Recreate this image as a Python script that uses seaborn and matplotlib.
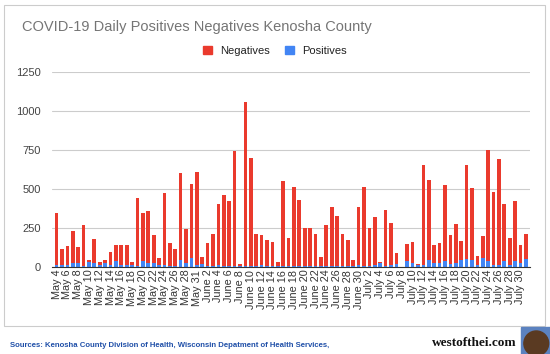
import pandas as pd
import matplotlib
matplotlib.use('Agg')
import matplotlib.pyplot as plt
import matplotlib.patches as mpatches
import seaborn as sns

# Daily test results, Kenosha County (one day missing at end of May)
dates = list(pd.date_range('2020-05-04', '2020-07-31'))
dates.remove(pd.Timestamp('2020-05-29'))
labels = [d.strftime('%B ') + str(d.day) for d in dates]

totals = [343, 118, 131, 233, 125, 269, 43, 177, 34, 47, 97, 142, 142, 142, 30,
          442, 343, 360, 207, 56, 472, 151, 118, 599, 241, 534, 610, 62, 151, 213,
          405, 461, 422, 743, 19, 1058, 700, 213, 203, 170, 160, 30, 550, 187,
          515, 431, 248, 248, 213, 62, 269, 381, 328, 213, 170, 47, 381, 511,
          252, 321, 30, 366, 282, 86, 0, 147, 157, 19, 651, 556, 140, 153, 528,
          207, 274, 164, 655, 504, 69, 196, 752, 483, 690, 405, 187, 420, 142, 213]
positives = [15, 15, 15, 25, 28, 5, 30, 28, 10, 28, 12, 40, 10, 12, 10,
             5, 35, 25, 28, 15, 12, 3, 5, 45, 28, 55, 12, 20, 5, 8,
             15, 5, 3, 3, 8, 5, 8, 5, 12, 5, 8, 5, 5, 5,
             5, 5, 5, 5, 5, 3, 5, 8, 5, 8, 8, 5, 10, 8,
             5, 10, 25, 5, 10, 20, 0, 38, 25, 10, 10, 45, 25, 25, 40,
             20, 25, 45, 50, 45, 10, 60, 40, 10, 10, 40, 10, 40, 25, 50]
negatives = [t - p for t, p in zip(totals, positives)]

df = pd.DataFrame({'Date': labels, 'Negatives': negatives, 'Positives': positives})
df['Total'] = df['Negatives'] + df['Positives']

sns.set_style('white')
plt.rcParams['font.family'] = ['Liberation Sans', 'DejaVu Sans']

red = '#EA3A2D'
blue = '#4285F4'

fig = plt.figure(figsize=(5.5, 3.54), dpi=100)
ax = fig.add_axes([0.095, 0.246, 0.869, 0.551])

# stacked: negatives on top of positives
sns.barplot(data=df, x='Date', y='Total', color=red, width=0.68, saturation=1,
            linewidth=0, edgecolor='none', ax=ax)
sns.barplot(data=df, x='Date', y='Positives', color=blue, width=0.68, saturation=1,
            linewidth=0, edgecolor='none', ax=ax)

ax.set_ylim(0, 1250)
ax.set_yticks(range(0, 1251, 250))
ax.set_xlim(-0.8, len(df) - 0.2)
ax.set_xlabel('')
ax.set_ylabel('')
ax.set_xticks(range(0, len(df), 2))
ax.set_xticklabels(labels[::2], rotation=90, fontsize=7.8, color='#333333')
ax.tick_params(axis='y', labelsize=8, colors='#444444', length=0, pad=8)
ax.tick_params(axis='x', length=0, pad=2)
ax.grid(axis='y', color='#cccccc', linewidth=0.8)
ax.set_axisbelow(True)
for s in ['top', 'right', 'left']:
    ax.spines[s].set_visible(False)
ax.spines['bottom'].set_color('#333333')
ax.spines['bottom'].set_linewidth(0.8)

fig.text(0.04, 0.924, 'COVID-19 Daily Positives Negatives Kenosha County',
         fontsize=10.5, color='#757575', va='center')

handles = [mpatches.Patch(color=red, label='Negatives'),
           mpatches.Patch(color=blue, label='Positives')]
fig.legend(handles=handles, loc='center', bbox_to_anchor=(0.5, 0.856), ncol=2,
           frameon=False, fontsize=8, handlelength=0.8, handleheight=0.8,
           columnspacing=1.4, handletextpad=0.7, labelcolor='#222222')

# chart border
fig.patches.append(mpatches.Rectangle((0.007, 0.079), 0.984, 0.907, transform=fig.transFigure,
                                      fill=False, edgecolor='#cccccc', linewidth=0.8))

fig.text(0.018, 0.025, 'Sources: Kenosha County Division of Health, Wisconsin Depatment of Health Services,',
         fontsize=5.6, fontweight='bold', color='#1f4fa8', va='center')
fig.text(0.94, 0.03, 'westofthei.com', fontsize=9.5, fontweight='bold',
         family='Liberation Serif', color='#111111', va='center', ha='right')
fig.patches.append(mpatches.Rectangle((0.948, 0.0), 0.052, 0.075, transform=fig.transFigure,
                                      color='#5b82c0'))
fig.patches.append(mpatches.Ellipse((0.975, 0.03), 0.045, 0.07, transform=fig.transFigure,
                                    color='#5a3a22'))

fig.savefig('out.png', dpi=100)
